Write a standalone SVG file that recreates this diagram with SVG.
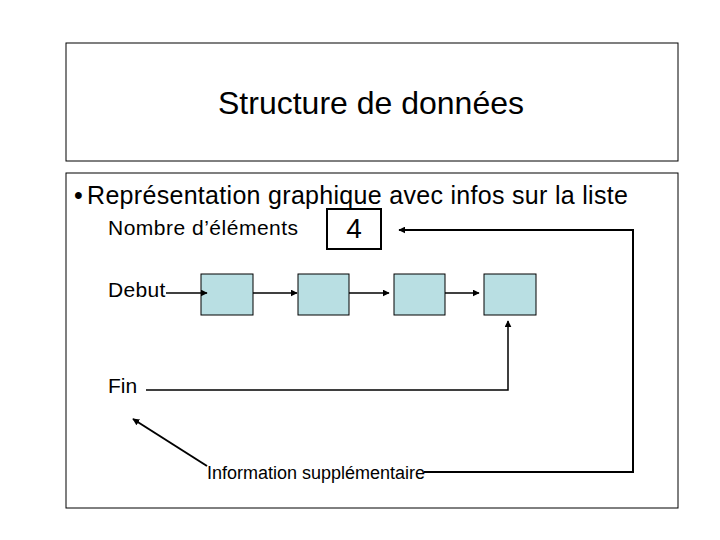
<svg xmlns="http://www.w3.org/2000/svg" width="720" height="540" viewBox="0 0 720 540">
<defs>
<marker id="ah" viewBox="0 0 10 10" refX="9" refY="5" markerWidth="7" markerHeight="7" markerUnits="userSpaceOnUse" orient="auto"><path d="M0,0 L10,5 L0,10 z" fill="#000"/></marker>
<style>
text{font-family:"Liberation Sans",Arial,sans-serif;fill:#000}
.frame{fill:#fff;stroke:#000;stroke-width:1}
.node{fill:#b9dfe3;stroke:#000;stroke-width:1}
.c{fill:none;stroke:#000;stroke-width:1.5}
.c2{fill:none;stroke:#000;stroke-width:2}
</style>
</defs>
<rect width="720" height="540" fill="#fff"/>
<g id="title">
<rect class="frame" x="66" y="43" width="612" height="118"/>
<text x="371" y="114" font-size="32" text-anchor="middle">Structure de données</text>
</g>
<g id="content">
<rect class="frame" x="66" y="173" width="612" height="335"/>
<text x="74" y="204" font-size="25" letter-spacing="0.3">•<tspan dx="4">Représentation graphique avec infos sur la liste</tspan></text>
</g>
<g id="count">
<text x="108" y="235" font-size="21" letter-spacing="0.5">Nombre d’éléments</text>
<rect x="327" y="209" width="54" height="40" fill="#fff" stroke="#000" stroke-width="2"/>
<text x="354" y="238" font-size="28" text-anchor="middle">4</text>
</g>
<g id="debut"><text x="108" y="297" font-size="21" letter-spacing="0.3">Debut</text></g>
<g id="fin"><text x="108" y="393" font-size="21">Fin</text></g>
<g id="info"><text x="207" y="479" font-size="18">Information supplémentaire</text></g>
<g id="n1"><rect class="node" x="201" y="274" width="52" height="41"/></g>
<g id="n2"><rect class="node" x="298" y="274" width="51" height="41"/></g>
<g id="n3"><rect class="node" x="394" y="274" width="51" height="41"/></g>
<g id="n4"><rect class="node" x="484" y="274" width="52" height="41"/></g>
<g id="connectors">
<line class="c" x1="166" y1="293" x2="207" y2="293" marker-end="url(#ah)"/>
<line class="c" x1="253" y1="293" x2="297" y2="293" marker-end="url(#ah)"/>
<line class="c" x1="349" y1="293" x2="389" y2="293" marker-end="url(#ah)"/>
<line class="c" x1="445" y1="293" x2="479" y2="293" marker-end="url(#ah)"/>
<polyline class="c" points="146,390 508,390 508,321" marker-end="url(#ah)"/>
<polyline class="c2" points="424,472 633,472 633,230 399,230" marker-end="url(#ah)"/>
<line class="c2" x1="207" y1="466" x2="133" y2="419" marker-end="url(#ah)"/>
</g>
</svg>
